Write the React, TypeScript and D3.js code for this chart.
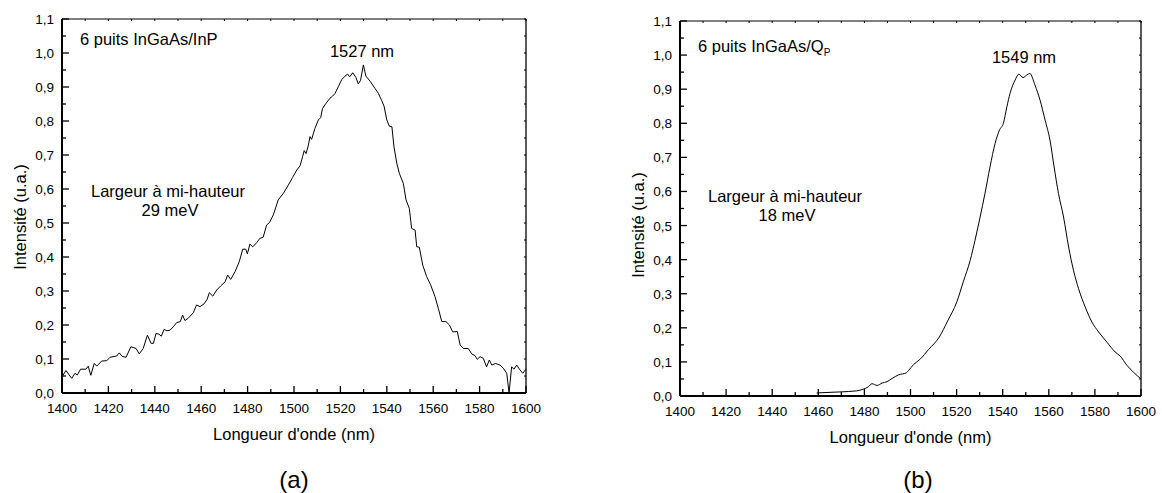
import React from "react";
import * as d3 from "d3";

// Spectrum (a): 6 wells InGaAs/InP
const wavelengthsA = [
  1400, 1401.7, 1404.2, 1405.6, 1406.6, 1408, 1410.3, 1411.3, 1412.4, 1413.9, 1415, 1417.1, 1419.3,
  1420.7, 1423.6, 1424.7, 1425.9, 1427.6, 1429.7, 1431.9, 1433.3, 1435, 1436.8, 1438.4, 1439.4,
  1440.5, 1441.8, 1442.8, 1444, 1445.2, 1446.6, 1448, 1449.4, 1451, 1452, 1453, 1454.4, 1456.6,
  1458, 1459.5, 1461.2, 1462.6, 1463.5, 1465, 1466.7, 1468.4, 1470.3, 1471.4, 1472.7, 1474.6,
  1476.4, 1477.9, 1479.2, 1479.9, 1481, 1482.2, 1483.9, 1485.3, 1486.7, 1488.2, 1489.4, 1491.1,
  1493.2, 1495.4, 1497.6, 1499.4, 1501.2, 1502.6, 1503.7, 1504.4, 1505.2, 1506.2, 1506.9, 1507.6,
  1509, 1510.5, 1511.5, 1512.3, 1513.8, 1515.5, 1516.6, 1517.7, 1519.1, 1520.6, 1522, 1523.1, 1524,
  1525.3, 1526.7, 1527.7, 1528.7, 1529.9, 1531, 1532.8, 1534.9, 1536.4, 1537.8, 1538.8, 1540,
  1541.1, 1542.2, 1543.1, 1544.3, 1545.4, 1547.1, 1548.3, 1549.7, 1550.7, 1552.2, 1552.9, 1554,
  1555.5, 1557.2, 1558.9, 1560.8, 1562.2, 1563.7, 1565.5, 1567, 1568.4, 1569.4, 1570.4, 1571.6,
  1573, 1575.1, 1576.6, 1578, 1579, 1580.2, 1581.6, 1583, 1584.2, 1585.3, 1586.8, 1588.8, 1590.2,
  1591.7, 1592.7, 1593.8, 1594.8, 1596, 1597.4, 1598.6, 1600,
];
const intensitiesA = [
  0.048, 0.066, 0.043, 0.058, 0.053, 0.07, 0.07, 0.079, 0.052, 0.087, 0.079, 0.094, 0.095,
  0.105, 0.109, 0.118, 0.108, 0.105, 0.136, 0.131, 0.115, 0.131, 0.17, 0.146, 0.146,
  0.175, 0.173, 0.167, 0.187, 0.183, 0.185, 0.195, 0.207, 0.21, 0.229, 0.213, 0.22, 0.236,
  0.259, 0.254, 0.262, 0.276, 0.295, 0.285, 0.303, 0.315, 0.327, 0.347, 0.334, 0.357,
  0.386, 0.423, 0.423, 0.409, 0.438, 0.43, 0.442, 0.455, 0.458, 0.494, 0.501, 0.524,
  0.568, 0.587, 0.612, 0.634, 0.656, 0.668, 0.695, 0.713, 0.704, 0.729, 0.754, 0.746,
  0.778, 0.803, 0.81, 0.837, 0.852, 0.867, 0.873, 0.881, 0.901, 0.922, 0.932, 0.938, 0.93,
  0.942, 0.928, 0.909, 0.92, 0.965, 0.932, 0.917, 0.896, 0.881, 0.86, 0.844, 0.803,
  0.785, 0.783, 0.724, 0.676, 0.646, 0.617, 0.568, 0.543, 0.484, 0.479, 0.43, 0.429,
  0.376, 0.342, 0.318, 0.283, 0.249, 0.21, 0.21, 0.2, 0.18, 0.18, 0.181, 0.141,
  0.131, 0.131, 0.115, 0.11, 0.099, 0.107, 0.102, 0.077, 0.097, 0.082, 0.087, 0.082, 0.073,
  0.058, 0.0, 0.077, 0.07, 0.082, 0.068, 0.058, 0.07,
];

// Spectrum (b): 6 wells InGaAs/Q_P
const wavelengthsB = [
  1459.3, 1469.4, 1476.6, 1479.5, 1481.7, 1483.3, 1485.5, 1487.7, 1489.8, 1491.9, 1494.8, 1498.2,
  1499.2, 1501.3, 1504.2, 1507.8, 1512.5, 1516.1, 1520.1, 1522.9, 1525.9, 1528, 1530.2, 1532.3,
  1534.5, 1536.7, 1538.6, 1540.3, 1541.8, 1543.2, 1545.4, 1547, 1548.8, 1550.5, 1551.8, 1554,
  1556.2, 1558.4, 1560.5, 1562.3, 1564.2, 1566.4, 1568.6, 1570.7, 1572.9, 1575.8, 1578.7, 1581.6,
  1585.2, 1588.8, 1591, 1593.9, 1596.7, 1600,
];
const intensitiesB = [
  0.009, 0.012, 0.015, 0.02, 0.027, 0.036, 0.031, 0.038, 0.042, 0.051, 0.062, 0.068,
  0.075, 0.092, 0.108, 0.136, 0.173, 0.22, 0.276, 0.335, 0.398, 0.457, 0.525, 0.594,
  0.672, 0.741, 0.78, 0.8, 0.848, 0.888, 0.927, 0.944, 0.934, 0.942, 0.946, 0.912,
  0.868, 0.809, 0.751, 0.672, 0.594, 0.525, 0.437, 0.369, 0.315, 0.261, 0.217, 0.188,
  0.158, 0.129, 0.117, 0.09, 0.07, 0.05,
];

const xMajorTicks = [1400, 1420, 1440, 1460, 1480, 1500, 1520, 1540, 1560, 1580, 1600];
const yMajorTicks = [0, 0.1, 0.2, 0.3, 0.4, 0.5, 0.6, 0.7, 0.8, 0.9, 1.0, 1.1];

const FONT = "'Liberation Sans', Arial, sans-serif";
const fmtY = (v: number) => d3.format(".1f")(v).replace(".", ",");

type PanelProps = {
  left: number;
  right: number;
  top: number;
  bottom: number;
  xs: number[];
  ys: number[];
  smooth: boolean;
  title: React.ReactNode;
  titleY: number;
  peakLabel: string;
  peakX: number;
  peakY: number;
  fwhmX: number;
  fwhmY: number;
  fwhmValue: string;
  yLabelX: number;
  yLabelY: number;
  panelLabel: string;
  panelLabelX: number;
};

function Panel(p: PanelProps) {
  const x = d3.scaleLinear().domain([1400, 1600]).range([p.left, p.right]);
  const y = d3.scaleLinear().domain([0, 1.1]).range([p.bottom, p.top]);
  const minorX = d3.range(1400, 1600.1, 10);
  const minorY = d3.range(0, 1.1001, 0.05);
  const pts = p.xs.map((v, i) => [v, p.ys[i]] as [number, number]);
  const line = d3
    .line<[number, number]>()
    .x((d) => x(d[0]))
    .y((d) => y(d[1]))
    .curve(p.smooth ? d3.curveMonotoneX : d3.curveLinear);
  const cx = (p.left + p.right) / 2;
  return (
    <g fontFamily={FONT} fill="#000">
      {/* frame */}
      <line x1={p.left} x2={p.right} y1={p.top} y2={p.top} stroke="#000" strokeWidth={1} />
      <line x1={p.right} x2={p.right} y1={p.top} y2={p.bottom} stroke="#000" strokeWidth={1.3} />
      {/* top & right small ticks */}
      {minorX.map((v) => (
        <line key={"tx" + v} x1={x(v)} x2={x(v)} y1={p.top} y2={p.top + 2} stroke="#000" strokeWidth={1} />
      ))}
      {minorY.map((v) => (
        <line key={"ry" + v} x1={p.right} x2={p.right - 2} y1={y(v)} y2={y(v)} stroke="#000" strokeWidth={1} />
      ))}
      {/* bottom ticks */}
      {minorX.map((v) => {
        const major = Math.round(v) % 20 === 0;
        return (
          <line key={"bx" + v} x1={x(v)} x2={x(v)} y1={p.bottom} y2={p.bottom - (major ? 7 : 4)} stroke="#000" strokeWidth={1.3} />
        );
      })}
      {/* left ticks */}
      {minorY.map((v, i) => {
        const major = i % 2 === 0;
        return (
          <line key={"ly" + i} x1={p.left} x2={p.left + (major ? 7 : 4)} y1={y(v)} y2={y(v)} stroke="#000" strokeWidth={1.3} />
        );
      })}
      <line x1={p.left} x2={p.right} y1={p.bottom} y2={p.bottom} stroke="#000" strokeWidth={2} />
      <line x1={p.left} x2={p.left} y1={p.top} y2={p.bottom} stroke="#000" strokeWidth={2} />
      {/* tick labels */}
      {xMajorTicks.map((v) => (
        <text key={"xl" + v} x={x(v)} y={p.bottom + 20} textAnchor="middle" fontSize={13.5}>
          {v}
        </text>
      ))}
      {yMajorTicks.map((v) => (
        <text key={"yl" + v} x={p.left - 8} y={y(v) + 5} textAnchor="end" fontSize={13.5}>
          {fmtY(v)}
        </text>
      ))}
      {/* curve */}
      <path d={line(pts) || ""} fill="none" stroke="#000" strokeWidth={1} strokeLinejoin="round" />
      {/* axis titles */}
      <text x={cx} y={p.bottom + 47} textAnchor="middle" fontSize={16.5}>
        Longueur d'onde (nm)
      </text>
      <text
        transform={`translate(${p.yLabelX},${p.yLabelY}) rotate(-90)`}
        textAnchor="middle"
        dominantBaseline="central"
        fontSize={16.5}
      >
        Intensité (u.a.)
      </text>
      {/* annotations */}
      <text x={p.left + 18} y={p.titleY} fontSize={16.5}>
        {p.title}
      </text>
      <text x={p.peakX} y={p.peakY} textAnchor="middle" fontSize={16.5}>
        {p.peakLabel}
      </text>
      <text x={p.fwhmX} y={p.fwhmY} textAnchor="middle" fontSize={16.5}>
        Largeur à mi-hauteur
      </text>
      <text x={p.fwhmX + 2} y={p.fwhmY + 19} textAnchor="middle" fontSize={16.5}>
        {p.fwhmValue}
      </text>
      <text x={p.panelLabelX} y={488} textAnchor="middle" fontSize={24}>
        {p.panelLabel}
      </text>
    </g>
  );
}

export default function App() {
  return (
    <svg
      width={1162}
      height={493}
      style={{ position: "absolute", left: 0, top: 0, display: "block", background: "#fff" }}
    >
      <rect x={0} y={0} width={1162} height={493} fill="#fff" />
      <Panel
        left={62}
        right={526}
        top={19}
        bottom={393}
        xs={wavelengthsA}
        ys={intensitiesA}
        smooth={false}
        title="6 puits InGaAs/InP"
        titleY={45}
        peakLabel="1527 nm"
        peakX={362}
        peakY={57}
        fwhmX={168}
        fwhmY={197}
        fwhmValue="29 meV"
        yLabelX={20}
        yLabelY={217}
        panelLabel="(a)"
        panelLabelX={294}
      />
      <Panel
        left={680}
        right={1141}
        top={21}
        bottom={396}
        xs={wavelengthsB}
        ys={intensitiesB}
        smooth={true}
        title={
          <>
            6 puits InGaAs/Q
            <tspan fontSize={10} dy={4}>
              P
            </tspan>
          </>
        }
        titleY={52}
        peakLabel="1549 nm"
        peakX={1024}
        peakY={63}
        fwhmX={785}
        fwhmY={202}
        fwhmValue="18 meV"
        yLabelX={638}
        yLabelY={225}
        panelLabel="(b)"
        panelLabelX={918}
      />
    </svg>
  );
}
